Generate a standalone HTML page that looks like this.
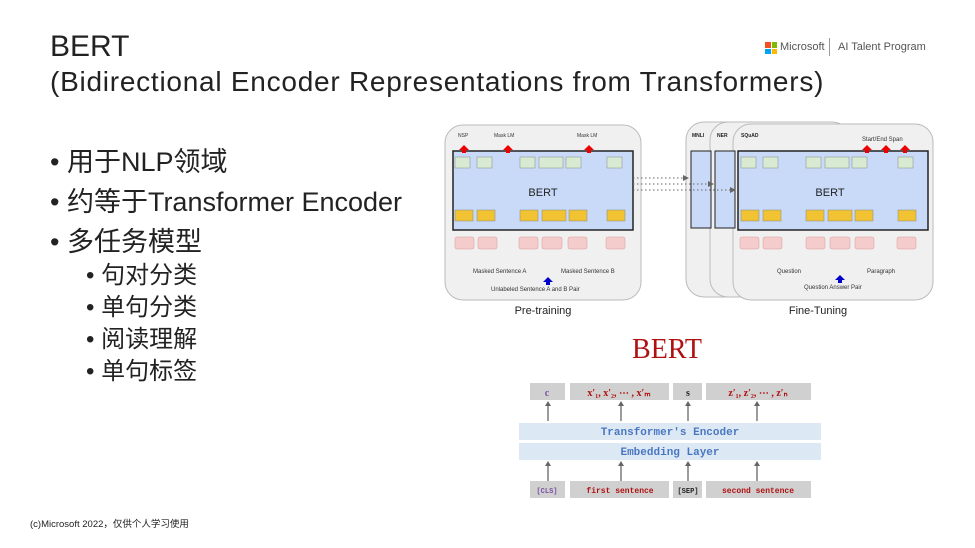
<!DOCTYPE html>
<html><head><meta charset="utf-8"><style>
body{margin:0;width:975px;height:548px;background:#fff;position:relative;overflow:hidden;font-family:"Liberation Sans","Noto Sans CJK SC",sans-serif;color:#222}
.a{position:absolute;white-space:nowrap}
</style></head><body>
<div class="a" style="left:50px;top:30px;font-size:30px">BERT</div>
<div class="a" style="left:50px;top:66px;font-size:28px;letter-spacing:0.75px">(Bidirectional Encoder Representations from Transformers)</div>
<div class="a" style="left:765px;top:42px;width:12px;height:12px">
<div style="position:absolute;left:0;top:0;width:5.5px;height:5.5px;background:#f25022"></div>
<div style="position:absolute;left:6.5px;top:0;width:5.5px;height:5.5px;background:#7fba00"></div>
<div style="position:absolute;left:0;top:6.5px;width:5.5px;height:5.5px;background:#00a4ef"></div>
<div style="position:absolute;left:6.5px;top:6.5px;width:5.5px;height:5.5px;background:#ffb900"></div></div>
<div class="a" style="left:780px;top:41px;font-size:11px;color:#555">Microsoft</div>
<div class="a" style="left:829px;top:38px;height:18px;border-left:1px solid #999"></div>
<div class="a" style="left:838px;top:41px;font-size:11px;color:#555">AI Talent Program</div>
<div class="a" style="left:50px;top:140px;font-size:27px">• 用于NLP领域</div>
<div class="a" style="left:50px;top:180px;font-size:27px">• 约等于Transformer Encoder</div>
<div class="a" style="left:50px;top:220px;font-size:27px">• 多任务模型</div>
<div class="a" style="left:86px;top:255px;font-size:24px">• 句对分类</div>
<div class="a" style="left:86px;top:287px;font-size:24px">• 单句分类</div>
<div class="a" style="left:86px;top:319px;font-size:24px">• 阅读理解</div>
<div class="a" style="left:86px;top:351px;font-size:24px">• 单句标签</div>
<div class="a" style="left:30px;top:516px;font-size:9.5px">(c)Microsoft 2022，仅供个人学习使用</div>

<svg class="a" style="left:0;top:0" width="975" height="548" font-family="Liberation Sans, sans-serif">
<rect x="445" y="125" width="196" height="175" rx="18" fill="#f0f0f0" stroke="#bbb"/>
<rect x="453" y="151" width="180" height="79" fill="#c9daf8" stroke="#222" stroke-width="1.5"/>
<text x="543" y="196" font-size="11" text-anchor="middle" fill="#222">BERT</text>
<g font-size="5" fill="#333">
<text x="458" y="137">NSP</text><text x="494" y="137">Mask LM</text><text x="577" y="137">Mask LM</text>
</g>
<g fill="#e00">
<path d="M459 150 l5-5 5 5 h-3 v3 h-4 v-3z"/><path d="M503 150 l5-5 5 5 h-3 v3 h-4 v-3z"/><path d="M584 150 l5-5 5 5 h-3 v3 h-4 v-3z"/>
</g>
<g fill="#d9ead3" stroke="#888" stroke-width=".5">
<rect x="455" y="157" width="15" height="11"/><rect x="477" y="157" width="15" height="11"/><rect x="520" y="157" width="15" height="11"/><rect x="539" y="157" width="24" height="11"/><rect x="566" y="157" width="15" height="11"/><rect x="607" y="157" width="15" height="11"/>
</g>
<g fill="#f1c232" stroke="#888" stroke-width=".5">
<rect x="455" y="210" width="18" height="11"/><rect x="477" y="210" width="18" height="11"/><rect x="520" y="210" width="18" height="11"/><rect x="542" y="210" width="24" height="11"/><rect x="569" y="210" width="18" height="11"/><rect x="607" y="210" width="18" height="11"/>
</g>
<g fill="#f4cccc" stroke="#d99" stroke-width=".5">
<rect x="455" y="237" width="19" height="12" rx="2"/><rect x="478" y="237" width="19" height="12" rx="2"/><rect x="519" y="237" width="19" height="12" rx="2"/><rect x="542" y="237" width="20" height="12" rx="2"/><rect x="568" y="237" width="19" height="12" rx="2"/><rect x="606" y="237" width="19" height="12" rx="2"/>
</g>
<g font-size="6" fill="#333">
<text x="473" y="273">Masked Sentence A</text><text x="561" y="273">Masked Sentence B</text>
<text x="491" y="291">Unlabeled Sentence A and B Pair</text>
</g>
<path d="M543 282 l5-5 5 5 h-3 v3 h-4 v-3z" fill="#00c"/>
<text x="543" y="314" font-size="11" text-anchor="middle" fill="#222">Pre-training</text>
<rect x="686" y="122" width="140" height="175" rx="18" fill="#f0f0f0" stroke="#bbb"/>
<rect x="710" y="122" width="140" height="175" rx="18" fill="#f0f0f0" stroke="#bbb"/>
<rect x="733" y="124" width="200" height="176" rx="18" fill="#f0f0f0" stroke="#bbb"/>
<rect x="691" y="151" width="20" height="77" fill="#c9daf8" stroke="#222"/>
<rect x="715" y="151" width="20" height="77" fill="#c9daf8" stroke="#222"/>
<rect x="738" y="151" width="190" height="79" fill="#c9daf8" stroke="#222" stroke-width="1.5"/>
<text x="830" y="196" font-size="11" text-anchor="middle" fill="#222">BERT</text>
<g font-size="5" font-weight="bold" fill="#222"><text x="692" y="137">MNLI</text><text x="717" y="137">NER</text><text x="741" y="137">SQuAD</text></g>
<text x="862" y="141" font-size="6" fill="#333">Start/End Span</text>
<g fill="#e00"><path d="M862 150 l5-5 5 5 h-3 v3 h-4 v-3z"/><path d="M881 150 l5-5 5 5 h-3 v3 h-4 v-3z"/><path d="M900 150 l5-5 5 5 h-3 v3 h-4 v-3z"/></g>
<g fill="#d9ead3" stroke="#888" stroke-width=".5">
<rect x="741" y="157" width="15" height="11"/><rect x="763" y="157" width="15" height="11"/><rect x="806" y="157" width="15" height="11"/><rect x="825" y="157" width="24" height="11"/><rect x="852" y="157" width="15" height="11"/><rect x="898" y="157" width="15" height="11"/>
</g>
<g fill="#f1c232" stroke="#888" stroke-width=".5">
<rect x="741" y="210" width="18" height="11"/><rect x="763" y="210" width="18" height="11"/><rect x="806" y="210" width="18" height="11"/><rect x="828" y="210" width="24" height="11"/><rect x="855" y="210" width="18" height="11"/><rect x="898" y="210" width="18" height="11"/>
</g>
<g fill="#f4cccc" stroke="#d99" stroke-width=".5">
<rect x="740" y="237" width="19" height="12" rx="2"/><rect x="763" y="237" width="19" height="12" rx="2"/><rect x="806" y="237" width="19" height="12" rx="2"/><rect x="830" y="237" width="20" height="12" rx="2"/><rect x="855" y="237" width="19" height="12" rx="2"/><rect x="897" y="237" width="19" height="12" rx="2"/>
</g>
<g font-size="6" fill="#333"><text x="777" y="273">Question</text><text x="867" y="273">Paragraph</text><text x="804" y="289">Question Answer Pair</text></g>
<path d="M835 280 l5-5 5 5 h-3 v3 h-4 v-3z" fill="#00c"/>
<text x="818" y="314" font-size="11" text-anchor="middle" fill="#222">Fine-Tuning</text>
<g stroke="#666" stroke-dasharray="1.5,2.5" fill="none"><path d="M633 178 H683"/><path d="M633 184 H708"/><path d="M633 190 H730"/></g>
<g fill="#666"><path d="M683 175 l6 3 -6 3z"/><path d="M708 181 l6 3 -6 3z"/><path d="M730 187 l6 3 -6 3z"/></g>
<text x="667" y="358" font-family="Liberation Serif, serif" font-size="28" fill="#b01010" text-anchor="middle">BERT</text>
<g fill="#d0d0d0"><rect x="530" y="383" width="35" height="17"/><rect x="570" y="383" width="99" height="17"/><rect x="673" y="383" width="29" height="17"/><rect x="706" y="383" width="105" height="17"/>
<rect x="530" y="481" width="35" height="17"/><rect x="570" y="481" width="99" height="17"/><rect x="673" y="481" width="29" height="17"/><rect x="706" y="481" width="105" height="17"/></g>
<g fill="#dde8f5"><rect x="519" y="423" width="302" height="17"/><rect x="519" y="443" width="302" height="17"/></g>
<g font-family="Liberation Serif, serif" font-weight="bold" font-size="10" text-anchor="middle">
<text x="547" y="396" fill="#7a4fa0">c</text><text x="619" y="396" fill="#b01010">x′₁, x′₂, ⋯ , x′ₘ</text><text x="688" y="396" fill="#222">s</text><text x="758" y="396" fill="#b01010">z′₁, z′₂, ⋯ , z′ₙ</text></g>
<g font-family="Liberation Mono, monospace" font-weight="bold" text-anchor="middle">
<text x="670" y="435" font-size="11" fill="#4a78c0">Transformer's Encoder</text>
<text x="670" y="455" font-size="11" fill="#4a78c0">Embedding Layer</text>
<text x="547" y="493" font-size="7" fill="#7a4fa0">[CLS]</text><text x="620" y="493" font-size="8" fill="#b01010">first sentence</text><text x="688" y="493" font-size="7" fill="#222">[SEP]</text><text x="758" y="493" font-size="8" fill="#b01010">second sentence</text></g>
<g stroke="#666" stroke-width="1.3"><path d="M548 404V421M621 404V421M688 404V421M757 404V421M548 464V481M621 464V481M688 464V481M757 464V481"/></g>
<g fill="#666"><path d="M545 406l3-5 3 5zM618 406l3-5 3 5zM685 406l3-5 3 5zM754 406l3-5 3 5zM545 466l3-5 3 5zM618 466l3-5 3 5zM685 466l3-5 3 5zM754 466l3-5 3 5z"/></g>
</svg>
</body></html>
